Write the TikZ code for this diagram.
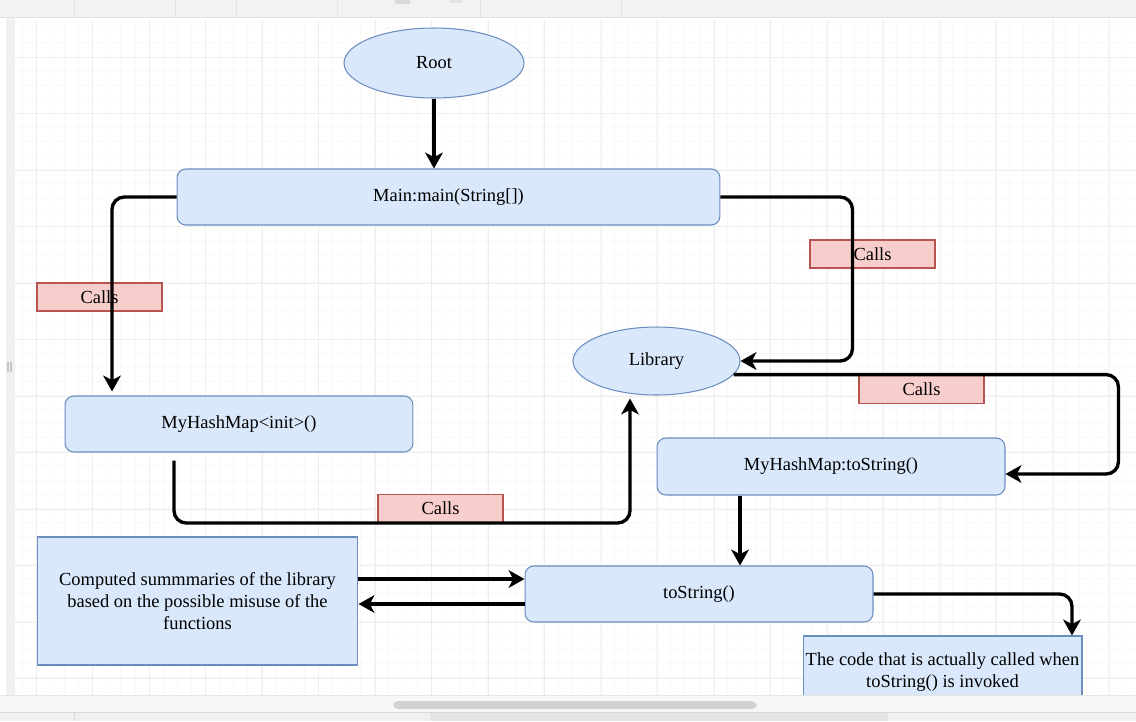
\documentclass[tikz,border=0pt]{standalone}
\usepackage{fontspec}
\setmainfont{Liberation Serif}
\usetikzlibrary{shapes.geometric,arrows.meta,calc}
\definecolor{fillblue}{HTML}{DAE8FC}
\definecolor{drawblue}{HTML}{6C8EBF}
\definecolor{fillred}{HTML}{F8CECC}
\definecolor{drawred}{HTML}{B85450}
\tikzset{
  every node/.style={font=\fontsize{10.5}{12.5}\selectfont},
  ovalnode/.style={ellipse,draw=drawblue,fill=fillblue,line width=0.6pt,inner sep=0pt},
  callbox/.style={rectangle,rounded corners=5pt,draw=drawblue,fill=fillblue,line width=0.6pt,minimum width=6.96cm,minimum height=1.12cm},
  notebox/.style={rectangle,draw=drawblue,fill=fillblue,line width=0.6pt,align=center},
  callslabel/.style={rectangle,draw=drawred,fill=fillred,line width=0.6pt,minimum width=2.5cm,minimum height=0.56cm},
  flow/.style={line width=1.9pt,rounded corners=7pt,-{Stealth[length=9pt,width=10pt,inset=2.5pt]}},
}
\begin{document}
\begin{tikzpicture}[x=0.02cm,y=-0.02cm]
\useasboundingbox (0,0) rectangle (1136,721);
% window and grid
\fill[white] (0,0) rectangle (1136,721);
\fill[gray!12] (6,17) rectangle (15,695);
\draw[gray!45,line width=0.8pt] (8,362) -- (8,372) (11,362) -- (11,372);
\foreach \gx in {22.1,36.2,...,1136} \draw[gray!5] (\gx,20) -- (\gx,695);
\foreach \gy in {28.7,42.8,...,695} \draw[gray!5] (15,\gy) -- (1136,\gy);
\foreach \gx in {36,92.5,...,1136} \draw[gray!13] (\gx,20) -- (\gx,695);
\foreach \gy in {57,113.5,...,695} \draw[gray!13] (15,\gy) -- (1136,\gy);
\fill[gray!10] (0,0) rectangle (1136,17);
\draw[gray!24] (0,17) -- (1136,17);
\foreach \sx in {74,175,236,337,480,621} \draw[gray!22] (\sx,0) -- (\sx,17);
\fill[gray!30] (395,0) rectangle (410,4);
\fill[gray!22] (450,0) rectangle (462,3);

% nodes
\node[ovalnode,minimum width=3.6cm,minimum height=1.4cm] (root) at (434,63) {Root};
\node[callbox,minimum width=10.86cm] (main) at (448.5,197) {Main:main(String[])};
\node[ovalnode,minimum width=3.34cm,minimum height=1.36cm] (lib) at (656.5,361) {Library};
\node[callbox] (init) at (239,424) {MyHashMap<init>()};
\node[callbox,minimum height=1.14cm] (hmts) at (831,466.5) {MyHashMap:toString()};
\node[callbox] (tostr) at (699,594) {toString()};
\node[notebox,minimum width=6.42cm,minimum height=2.56cm] (comp) at (197.5,601)
  {Computed summmaries of the library\\based on the possible misuse of the\\functions};
\node[notebox,inner xsep=1pt,minimum width=5.58cm,minimum height=1.46cm] (code) at (942.5,672.5)
  {The code that is actually called when\\toString() is invoked};
\node[callslabel] (calls1) at (99.5,297) {Calls};
\node[callslabel] (calls2) at (872.5,254) {Calls};
\node[callslabel] (calls3) at (921.5,389.5) {Calls};
\node[callslabel] (calls4) at (440.5,508.5) {Calls};

% connectors
\coordinate (initin) at ([xshift=-2.54cm,yshift=0.08cm]init.north);
\coordinate (initout) at ([xshift=-1.3cm,yshift=-0.16cm]init.south);
\coordinate (libin) at ([xshift=-0.53cm,yshift=-0.06cm]lib.south);
\coordinate (hmtsin) at ([yshift=-0.15cm]hmts.east);
\draw[flow] (root.south) -- (root.south |- main.north);
\draw[flow] (main.west) -| (initin);
\draw[flow] (main.east) -| ([xshift=2.24cm]lib.east) -- (lib.east);
\draw[flow] (lib.-10) -| ([xshift=2.26cm]hmtsin) -- (hmtsin);
\draw[flow] (initout) |- (calls4.south -| libin) -- (libin);
\draw[flow] ([xshift=-1.82cm]hmts.south) -- ([xshift=-1.82cm]hmts.south |- tostr.north);
\draw[flow] ([yshift=0.44cm]comp.east) -- ([yshift=0.44cm]comp.east -| tostr.west);
\draw[flow] ([yshift=-0.2cm]tostr.west) -- ([yshift=-0.2cm]tostr.west -| comp.east);
\draw[flow] (tostr.east) -| ([xshift=2.59cm]code.north);

% scrollbar
\fill[gray!6] (0,695) rectangle (1136,712);
\draw[gray!20] (0,695) -- (1136,695);
\fill[gray!35,rounded corners=3pt] (393,701) rectangle (757,709);
\fill[gray!12] (0,712) rectangle (1136,721);
\fill[gray!22] (430,712) rectangle (888,721);
\draw[gray!30] (0,712) -- (1136,712) (74,712) -- (74,721);
\end{tikzpicture}
\end{document}
